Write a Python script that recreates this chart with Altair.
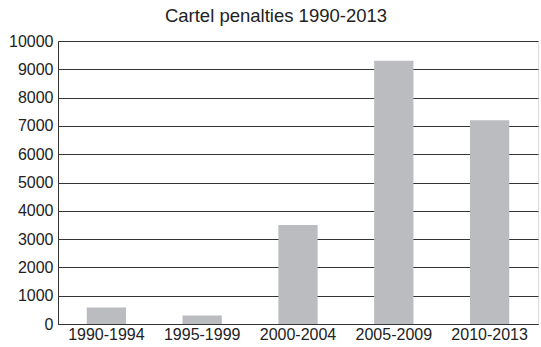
import altair as alt
import pandas as pd

periods = ["1990-1994", "1995-1999", "2000-2004", "2005-2009", "2010-2013"]
penalties = [580, 300, 3500, 9300, 7200]
y_ticks = [0, 1000, 2000, 3000, 4000, 5000, 6000, 7000, 8000, 9000, 10000]

df = pd.DataFrame({"period": periods, "penalty": penalties})

FONT = "Liberation Sans"

chart = alt.Chart(df).mark_bar(color="#bbbcc0").encode(
    x=alt.X("period:N", sort=periods,
            scale=alt.Scale(paddingInner=0.59, paddingOuter=0.3),
            axis=alt.Axis(title=None, labelAngle=0, ticks=False, grid=False,
                          labelPadding=2, labelFontSize=16, labelFont=FONT,
                          labelColor="#222", domainColor="#333")),
    y=alt.Y("penalty:Q", scale=alt.Scale(domain=[0, 10000], nice=False),
            axis=alt.Axis(title=None, values=y_ticks, ticks=False, grid=True,
                          format="d",
                          gridColor="#333", gridOpacity=1, gridWidth=1,
                          labelPadding=5, labelFontSize=16, labelFont=FONT,
                          labelColor="#222", domainColor="#333")),
).properties(
    width=480, height=283,
    title=alt.TitleParams("Cartel penalties 1990-2013", font=FONT, fontSize=18.5,
                          fontWeight="normal", color="#222", anchor="middle",
                          dx=-22, offset=8),
    autosize=alt.AutoSizeParams(type="none"),
    padding={"left": 58, "top": 41, "right": 3, "bottom": 23},
).configure_view(stroke=None).configure(background="white")

chart.save("out.html", embed_options={"renderer": "svg", "actions": False})
